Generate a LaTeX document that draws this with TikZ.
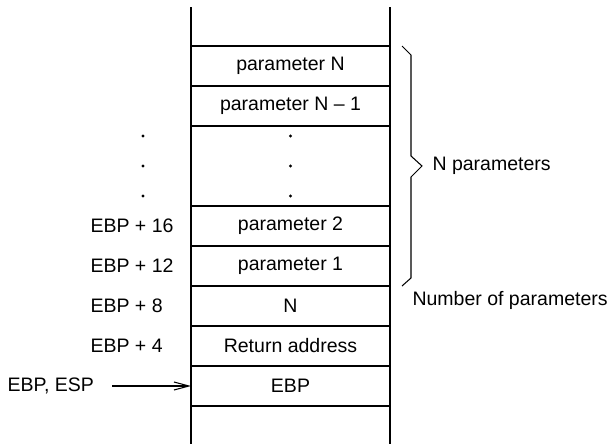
\documentclass[tikz,border=0pt]{standalone}
\usepackage{fontspec}
\setmainfont{Liberation Sans}
\usetikzlibrary{arrows.meta, positioning}

\begin{document}
\begin{tikzpicture}[line width=0.6pt, >={Straight Barb[length=3mm, width=1.6mm]},
    font=\fontsize{11.1}{13}\selectfont,
    cell/.style={draw, minimum width=3.98cm, minimum height=0.8cm, inner sep=0pt, outer sep=0pt},
    gapcell/.style={minimum width=3.98cm, minimum height=1.6cm, inner sep=0pt, outer sep=0pt},
    lbl/.style={anchor=west, inner sep=0pt},
    dotmark/.style={circle, fill, inner sep=0pt, minimum size=1.9pt}]
  \useasboundingbox (0,0) rectangle (12.26,8.88);
  % ---- the stack ----
  \node[cell] (parN) at (5.81,7.56) {parameter N};
  \node[cell, below=0pt of parN] (parNm) {parameter N – 1};
  \node[gapcell, below=0pt of parNm] (gap) {};
  \node[cell, below=0pt of gap] (par2) {parameter 2};
  \node[cell, below=0pt of par2] (par1) {parameter 1};
  \node[cell, below=0pt of par1] (cnt) {N};
  \node[cell, below=0pt of cnt] (ret) {Return address};
  \node[cell, below=0pt of ret] (ebp) {EBP};
  \draw (3.82,8.74) -- (3.82,0);
  \draw (7.80,8.74) -- (7.80,0);
  \foreach \dy in {0.6,0,-0.6} {
    \node[dotmark] at ([yshift=\dy cm]gap.center) {};
    \node[dotmark] at ([yshift=\dy cm]gap.center -| 2.86,0) {};
  }
  % ---- offsets on the left ----
  \coordinate (lx) at (1.8,0);
  \node[lbl] (l16) at (lx |- par2) {EBP + 16};
  \node[lbl] (l12) at (lx |- par1) {EBP + 12};
  \node[lbl] (l8)  at (lx |- cnt)  {EBP + 8};
  \node[lbl] (l4)  at (lx |- ret)  {EBP + 4};
  \node[lbl] (esp) at (0.14,0 |- ebp) {EBP, ESP};
  \draw[->, shorten <=0.36cm] (esp.east) -- (ebp.west);
  % ---- brace and notes on the right ----
  \coordinate (btop) at ([xshift=0.24cm]parN.north east);
  \coordinate (bbot) at ([xshift=0.24cm]par1.south east);
  \coordinate (btip) at (8.44,5.56);
  \draw (btop) -- ++(0.18,-0.18) -- (8.22,5.76) -- (btip) -- (8.22,5.34)
    -- (8.22,3.32) -- (bbot);
  \node[lbl, right=0.2cm of btip] (npar) {N parameters};
  \node[lbl] (nnum) at ([yshift=0.12cm]8.24,0 |- cnt) {Number of parameters};
\end{tikzpicture}
\end{document}
